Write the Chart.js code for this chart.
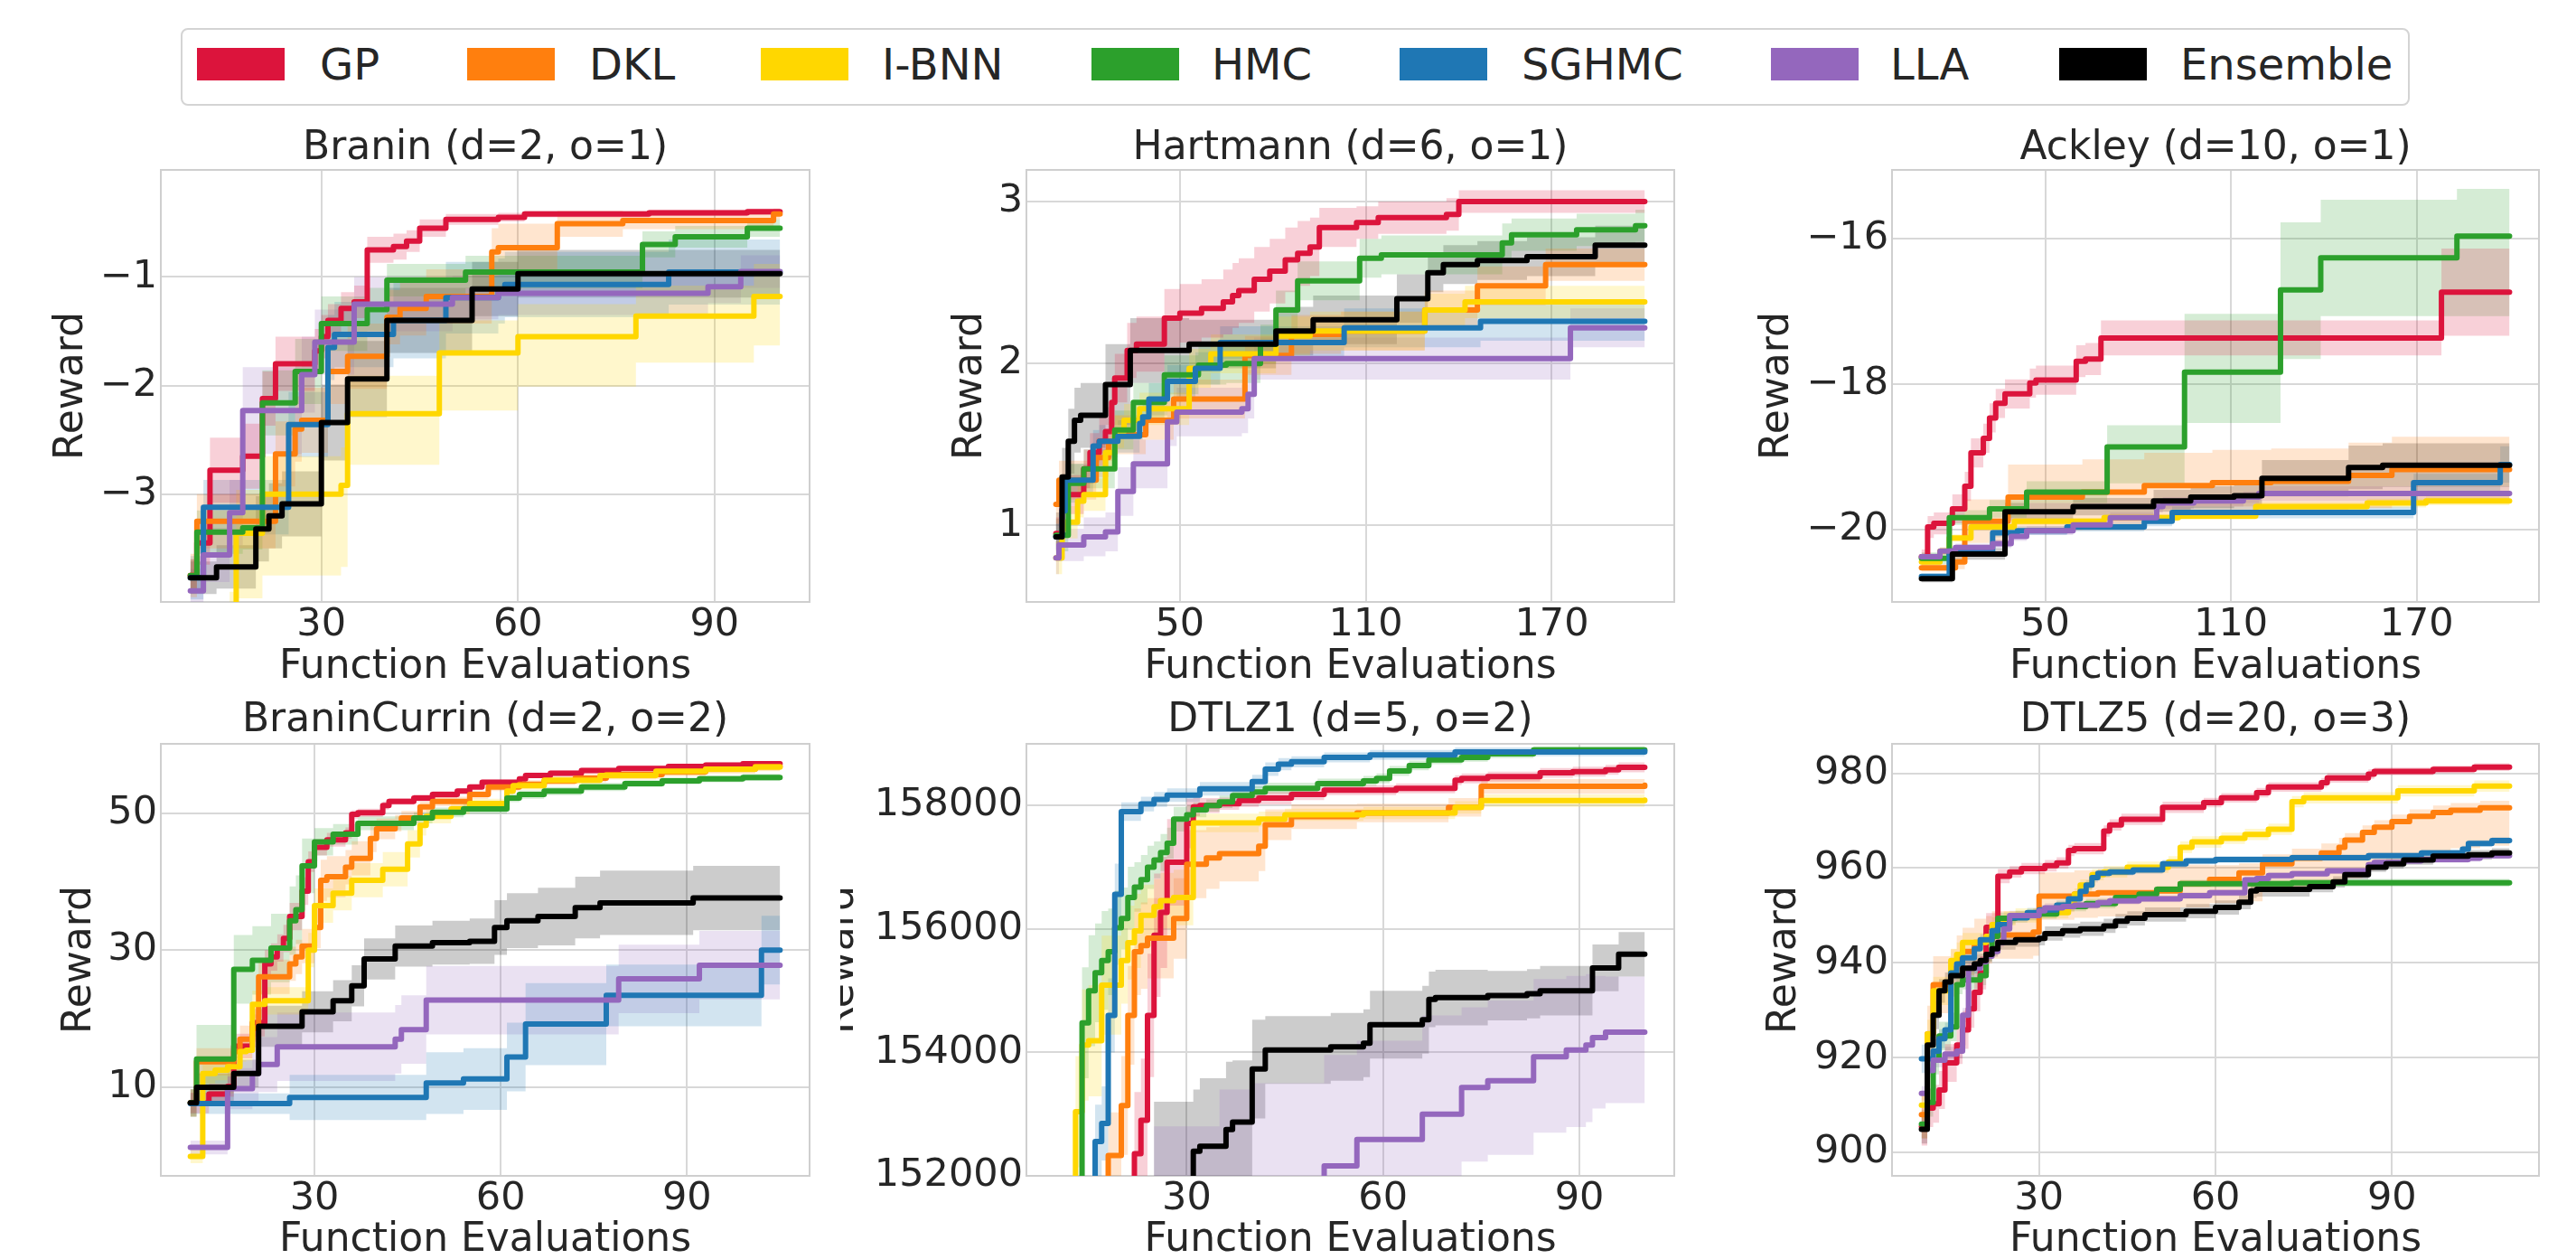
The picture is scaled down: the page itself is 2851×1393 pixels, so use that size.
<!DOCTYPE html>
<html>
<head>
<meta charset="utf-8">
<script src="https://cdn.jsdelivr.net/npm/chart.js@4/dist/chart.umd.min.js"></script>
<style>
html,body{margin:0;padding:0;background:#ffffff;}
body{width:2851px;height:1393px;position:relative;overflow:hidden;font-family:'DejaVu Sans',sans-serif;}
canvas{position:absolute;}
#legend{position:absolute;left:200px;top:31px;width:2463px;height:82px;border:2px solid #d4d4d4;border-radius:8px;}
.sw{position:absolute;top:20px;width:97px;height:36px;}
.lt{position:absolute;top:14px;font-size:48px;line-height:48px;color:#262626;white-space:nowrap;}
</style>
</head>
<body>
<div id="legend"></div>
<canvas id="c1" width="930" height="660" style="left:0px;top:100px;"></canvas>
<canvas id="c2" width="960" height="660" style="left:930px;top:100px;"></canvas>
<canvas id="c3" width="961" height="660" style="left:1890px;top:100px;"></canvas>
<canvas id="c4" width="930" height="633" style="left:0px;top:760px;"></canvas>
<canvas id="c5" width="960" height="633" style="left:930px;top:760px;"></canvas>
<canvas id="c6" width="961" height="633" style="left:1890px;top:760px;"></canvas>
<script>
// ---------- categories ----------
const methodNames = ['GP', 'DKL', 'I-BNN', 'HMC', 'SGHMC', 'LLA', 'Ensemble'];
const panelTitles = ['Branin (d=2, o=1)', 'Hartmann (d=6, o=1)', 'Ackley (d=10, o=1)',
                     'BraninCurrin (d=2, o=2)', 'DTLZ1 (d=5, o=2)', 'DTLZ5 (d=20, o=3)'];

// ---------- tick labels ----------
const braninXTicks = [30, 60, 90];     const braninYTicks = [-3, -2, -1];
const hartXTicks = [50, 110, 170];     const hartYTicks = [1, 2, 3];
const ackXTicks = [50, 110, 170];      const ackYTicks = [-20, -18, -16];
const bcXTicks = [30, 60, 90];         const bcYTicks = [10, 30, 50];
const dtlz1XTicks = [30, 60, 90];      const dtlz1YTicks = [152000, 154000, 156000, 158000];
const dtlz5XTicks = [30, 60, 90];      const dtlz5YTicks = [900, 920, 940, 960, 980];

// ---------- series: [evaluations, reward, band half-width (up), optional band half-width (down)] ----------
// Branin
const braninGP = [[10,-3.75,0.15],[11,-3.45,0.2],[13,-2.78,0.3],[18,-2.65,0.3],[21,-2.12,0.25],[23,-1.80,0.25],[29,-1.68,0.2],[30,-1.55,0.2],[31,-1.40,0.15],[33,-1.29,0.15],[35,-1.23,0.15],[37,-0.75,0.12],[41,-0.72,0.12],[43,-0.67,0.1],[45,-0.55,0.08],[49,-0.47,0.05],[57,-0.45,0.04],[61,-0.42,0.03],[80,-0.41,0.03],[95,-0.40,0.03],[100,-0.40,0.03]];
const braninDKL = [[10,-3.75,0.2],[11,-3.25,0.25],[23,-2.63,0.3],[26,-2.40,0.3],[27,-2.32,0.3],[31,-1.87,0.3],[34,-1.73,0.3],[40,-1.37,0.25],[42,-1.29,0.25],[46,-1.18,0.25],[56,-0.77,0.22],[57,-0.73,0.22],[66,-0.51,0.12],[76,-0.48,0.08],[99,-0.42,0.05],[100,-0.42,0.05]];
const braninIBNN = [[10,-4.6,0.4,0.6],[16,-4.3,0.4,0.6],[17,-3.36,0.4,0.6],[21,-3.0,0.35,0.75],[33,-2.92,0.35,0.75],[34,-2.26,0.35,0.47],[48,-1.70,0.3,0.53],[60,-1.55,0.3,0.46],[78,-1.36,0.28,0.43],[96,-1.18,0.3,0.45],[100,-1.18,0.3,0.45]];
const braninHMC = [[10,-3.75,0.15],[11,-3.35,0.2],[18,-3.31,0.2],[21,-2.16,0.3],[26,-1.87,0.3],[30,-1.43,0.25],[37,-1.30,0.2],[40,-1.03,0.15],[52,-0.955,0.15],[79,-0.70,0.12],[84,-0.63,0.1],[95,-0.55,0.08],[100,-0.55,0.08]];
const braninSGHMC = [[10,-3.77,0.2],[12,-3.12,0.25],[25,-2.36,0.3],[31,-1.65,0.3],[32,-1.53,0.3],[41,-1.40,0.35],[49,-1.19,0.33],[57,-1.13,0.3],[58,-1.07,0.3],[83,-0.955,0.3],[100,-0.955,0.3]];
const braninLLA = [[10,-3.89,0.2],[12,-3.56,0.25],[16,-3.17,0.3],[18,-2.23,0.4],[27,-1.90,0.35],[29,-1.60,0.3],[35,-1.25,0.25],[50,-1.19,0.2],[57,-1.15,0.2],[89,-1.09,0.15],[94,-0.95,0.15],[100,-0.95,0.15]];
const braninEns = [[10,-3.77,0.15],[14,-3.67,0.2],[20,-3.32,0.3],[22,-3.20,0.3],[24,-3.09,0.3],[30,-2.34,0.35],[34,-1.94,0.35],[40,-1.40,0.3],[53,-1.11,0.25],[60,-0.97,0.22],[100,-0.97,0.22]];

// Hartmann
const hartGP = [[10,0.95,0.1],[12,1.10,0.1],[13,1.19,0.12],[19,1.35,0.12],[21,1.45,0.12],[24,1.52,0.15],[26,1.58,0.15],[28,1.76,0.15],[29,1.91,0.15],[33,2.08,0.17],[36,2.12,0.17],[45,2.28,0.18],[50,2.31,0.18],[57,2.34,0.18],[64,2.38,0.2],[67,2.42,0.2],[69,2.45,0.2],[74,2.52,0.2],[79,2.57,0.2],[84,2.64,0.2],[88,2.68,0.2],[92,2.72,0.18],[95,2.84,0.12],[107,2.87,0.1],[114,2.90,0.1],[136,2.92,0.1],[140,3.00,0.07],[200,3.00,0.07]];
const hartDKL = [[10,1.13,0.12],[11,1.28,0.12],[23,1.42,0.12],[27,1.52,0.12],[29,1.56,0.12],[39,1.65,0.12],[48,1.78,0.12],[71,2.05,0.12],[86,2.18,0.12],[102,2.20,0.12],[129,2.33,0.12],[146,2.48,0.12],[168,2.61,0.1],[200,2.61,0.1]];
const hartIBNN = [[10,0.80,0.1],[12,0.98,0.1],[13,1.02,0.1],[17,1.15,0.1],[19,1.19,0.1],[26,1.45,0.1],[29,1.58,0.1],[32,1.65,0.1],[37,1.72,0.1],[53,1.97,0.12],[60,2.06,0.12],[81,2.17,0.12],[92,2.20,0.12],[129,2.33,0.1],[142,2.38,0.1],[200,2.38,0.1]];
const hartHMC = [[10,0.94,0.1],[14,1.26,0.12],[19,1.35,0.12],[29,1.59,0.12],[35,1.76,0.12],[45,1.93,0.12],[56,1.99,0.12],[65,2.00,0.12],[76,2.12,0.12],[81,2.33,0.12],[88,2.51,0.12],[108,2.65,0.12],[115,2.67,0.12],[154,2.745,0.12],[157,2.795,0.1],[178,2.825,0.1],[197,2.85,0.1],[200,2.85,0.1]];
const hartSGHMC = [[10,0.93,0.08],[12,1.09,0.1],[13,1.28,0.1],[22,1.49,0.1],[24,1.52,0.1],[30,1.55,0.1],[37,1.63,0.1],[38,1.67,0.1],[40,1.78,0.1],[46,1.89,0.1],[55,1.97,0.1],[63,2.13,0.1],[103,2.22,0.12],[147,2.26,0.12],[200,2.26,0.12]];
const hartLLA = [[10,0.80,0.1],[11,0.88,0.1],[19,0.93,0.12],[26,0.96,0.12],[30,1.21,0.15],[35,1.38,0.15],[46,1.64,0.15],[49,1.70,0.15],[70,1.72,0.15],[72,1.81,0.15],[74,2.03,0.13],[176,2.22,0.12],[200,2.22,0.12]];
const hartEns = [[10,0.93,0.15],[12,1.30,0.18],[14,1.52,0.2],[16,1.65,0.2],[18,1.68,0.2],[26,1.87,0.25],[34,2.08,0.2],[53,2.12,0.15],[81,2.20,0.15],[93,2.27,0.15],[120,2.40,0.15],[130,2.56,0.12],[135,2.61,0.12],[146,2.635,0.12],[162,2.66,0.12],[184,2.73,0.12],[200,2.73,0.12]];

// Ackley
const ackGP = [[10,-20.38,0.1],[12,-19.97,0.15],[14,-19.92,0.15],[20,-19.72,0.2],[24,-19.41,0.2],[26,-18.95,0.2],[30,-18.75,0.2],[32,-18.47,0.2],[34,-18.27,0.2],[37,-18.14,0.2],[45,-17.99,0.2],[47,-17.95,0.2],[60,-17.69,0.22],[63,-17.66,0.22],[68,-17.37,0.24],[178,-16.74,0.6],[200,-16.74,0.6]];
const ackDKL = [[10,-20.53,0.05],[21,-20.45,0.1],[24,-19.89,0.3],[38,-19.56,0.45],[62,-19.49,0.45],[82,-19.40,0.45],[104,-19.36,0.45],[123,-19.34,0.45],[148,-19.26,0.45],[162,-19.18,0.45],[200,-19.18,0.45]];
const ackIBNN = [[10,-20.45,0.05],[16,-20.30,0.05],[19,-20.12,0.05],[26,-19.97,0.05],[40,-19.89,0.05],[69,-19.84,0.05],[93,-19.82,0.05],[118,-19.69,0.06],[154,-19.64,0.06],[173,-19.61,0.06],[200,-19.61,0.06]];
const ackHMC = [[10,-20.40,0.08],[19,-19.84,0.1],[32,-19.72,0.12],[44,-19.49,0.15],[70,-18.87,0.3,0.5],[95,-17.84,0.8,0.7],[126,-16.71,0.93,0.95],[139,-16.27,0.8,0.8],[183,-15.97,0.65,1.1],[200,-15.97,0.65,1.1]];
const ackSGHMC = [[10,-20.65,0.04],[19,-20.30,0.05],[33,-20.05,0.06],[41,-20.02,0.06],[57,-19.97,0.06],[82,-19.89,0.07],[91,-19.77,0.08],[169,-19.36,0.12],[197,-19.11,0.25],[200,-19.11,0.25]];
const ackLLA = [[10,-20.38,0.05],[16,-20.30,0.05],[21,-20.25,0.05],[33,-20.20,0.06],[39,-20.10,0.06],[44,-20.02,0.06],[59,-19.94,0.07],[71,-19.84,0.07],[86,-19.69,0.08],[88,-19.64,0.08],[98,-19.61,0.08],[114,-19.56,0.08],[119,-19.51,0.1],[200,-19.51,0.1]];
const ackEns = [[10,-20.68,0.05],[20,-20.34,0.08],[37,-19.76,0.12],[59,-19.69,0.12],[85,-19.61,0.15],[97,-19.56,0.15],[111,-19.54,0.15],[120,-19.30,0.25],[148,-19.15,0.3],[159,-19.12,0.3],[200,-19.12,0.3]];

// BraninCurrin
const bcGP = [[10,7.7,1.5],[13,9.0,1.5],[16,10.1,1.5],[17,16.0,1.8],[20,19.4,2],[22,28.0,2],[23,29.0,2],[24,30.3,2],[25,31.7,2],[26,34.9,2],[28,38.6,2],[29,42.9,1.5],[30,45.0,1.2],[32,46.1,1],[35,47.1,0.8],[36,49.8,0.6],[37,50.05,0.6],[41,51.1,0.6],[42,51.7,0.5],[46,52.2,0.5],[49,52.7,0.5],[53,53.2,0.4],[55,53.8,0.4],[57,54.5,0.4],[63,55.0,0.4],[64,55.5,0.4],[68,55.8,0.4],[73,56.2,0.4],[79,56.5,0.4],[87,56.8,0.4],[93,57.0,0.4],[99,57.2,0.4],[105,57.2,0.4]];
const bcDKL = [[10,7.7,2],[11,13.7,2],[17,15.2,2],[18,17.0,2],[20,18.6,2],[21,26.1,2.5],[26,28.0,2.5],[27,29.0,2.5],[28,30.6,2.5],[30,33.3,3],[31,40.2,3],[32,40.7,3],[35,42.1,2.5],[36,43.4,2.5],[39,46.3,2],[40,47.7,1.5],[43,48.5,1.2],[44,49.3,1],[47,50.9,0.8],[49,51.7,0.7],[55,52.7,0.6],[58,53.8,0.6],[63,54.2,0.6],[67,54.7,0.6],[72,55.1,0.6],[77,55.6,0.6],[86,56.0,0.6],[93,56.4,0.6],[101,56.8,0.6],[105,56.8,0.6]];
const bcIBNN = [[10,-0.1,1],[12,12.0,1.5],[14,12.5,1.5],[16,13.0,1.5],[18,15.2,1.5],[19,15.4,1.5],[20,22.1,2],[22,22.6,2],[29,30.0,2.5],[30,36.5,2.5],[33,38.3,2.5],[36,40.2,2.5],[41,41.8,2.5],[45,45.5,2],[47,48.2,1.5],[48,49.5,1],[52,50.6,0.8],[55,51.4,0.7],[61,53.2,0.6],[62,54.0,0.6],[67,54.8,0.6],[76,55.5,0.6],[85,56.1,0.6],[93,56.4,0.6],[101,56.7,0.6],[105,56.7,0.6]];
const bcHMC = [[10,7.7,2],[11,14.1,5],[17,27.2,5],[20,28.5,5],[23,30.3,5],[26,34.3,5],[27,35.9,5],[28,42.3,4],[30,45.8,2],[33,46.9,1.5],[37,48.5,1],[46,49.3,0.8],[49,50.1,0.7],[54,50.6,0.7],[61,52.2,0.6],[63,52.7,0.6],[67,53.2,0.6],[73,53.8,0.6],[80,54.3,0.5],[86,54.7,0.5],[92,55.0,0.5],[99,55.2,0.5],[105,55.2,0.5]];
const bcSGHMC = [[10,7.6,1.5],[26,8.5,3.3],[48,10.6,4.5],[54,11.2,4.5],[61,14.4,5],[64,19.2,6],[77,23.4,4.5],[102,30.0,5],[105,30.0,5]];
const bcLLA = [[10,1.2,1],[16,9.8,3],[20,12.0,4],[21,13.3,4],[24,15.9,5],[43,17.0,5],[44,18.4,5],[48,22.7,5],[79,25.8,5],[92,27.8,5],[105,27.8,5]];
const bcEns = [[10,7.7,2],[11,10.0,2],[17,12.0,2],[21,18.9,3],[28,21.0,3],[33,22.6,3],[36,24.8,3],[38,28.7,3],[43,30.6,3],[49,31.1,3.2],[55,31.3,3.3],[59,33.3,4],[61,34.3,4],[66,34.9,4.2],[72,36.2,4.5],[76,36.9,4.7],[91,37.6,4.7],[105,37.6,4.7]];

// DTLZ1
const dtlz1GP = [[10,148000,300],[21,150500,1000],[22,152360,1000],[23,152900,1000],[24,154600,1000],[25,155900,1000],[26,156270,900],[27,157080,700],[30,157710,400],[31,157980,150],[32,158000,120],[35,158030,100],[38,158080,100],[41,158120,100],[46,158180,90],[51,158250,80],[62,158280,80],[71,158410,80],[72,158440,80],[76,158470,80],[84,158530,80],[89,158550,80],[94,158580,80],[96,158620,80],[100,158620,80]];
const dtlz1DKL = [[10,148000,300],[17,150500,600],[18,152330,700],[20,153140,800],[21,154600,800],[22,155630,700],[23,155730,700],[24,155850,650],[28,156170,650],[30,157050,550],[33,157150,500],[35,157220,450],[41,157340,400],[42,157690,250],[46,157820,200],[56,157880,150],[70,157970,150],[75,158310,120],[100,158330,120]];
const dtlz1IBNN = [[10,148000,300],[12,150500,800],[13,153040,900],[14,154120,900],[15,154190,900],[17,155090,800],[20,155490,700],[21,155780,600],[22,155970,600],[23,156220,500],[25,156360,450],[26,156460,450],[28,156510,450],[31,157720,150],[41,157780,120],[45,157850,100],[57,157880,100],[71,157970,100],[75,158080,100],[100,158090,100]];
const dtlz1HMC = [[10,148000,300],[13,150500,900],[14,154480,900],[15,155000,900],[16,155290,800],[17,155490,800],[18,155630,700],[19,156020,600],[20,156170,500],[21,156510,500],[22,156680,400],[23,156800,400],[24,157000,350],[25,157120,300],[26,157240,300],[27,157390,250],[28,157780,200],[30,157850,150],[31,157930,120],[33,158000,100],[35,158060,100],[37,158160,100],[40,158220,90],[42,158280,90],[50,158355,80],[57,158400,80],[59,158440,80],[61,158560,80],[64,158650,80],[67,158740,70],[72,158780,70],[76,158840,70],[83,158900,60],[100,158900,60]];
const dtlz1SGHMC = [[10,148000,300],[15,150500,500],[16,152555,600],[17,152850,600],[18,154600,600],[19,156560,500],[20,157900,150],[23,158025,120],[25,158100,120],[27,158170,110],[32,158270,110],[40,158390,110],[42,158590,110],[44,158670,100],[46,158710,90],[51,158780,80],[58,158820,80],[71,158870,70],[100,158880,70]];
const dtlz1LLA = [[10,147000,1500],[25,150000,2800],[35,150500,2900],[40,151200,2300],[50,151500,2000],[51,152160,1800],[56,152590,1600],[66,153000,1600],[72,153430,1300,1200],[76,153540,1300,1200],[83,153930,1260,1230],[88,154040,1200,1250],[91,154120,1150,1250],[92,154240,1000,1150],[94,154330,900,1150],[100,154330,900,1150]];
const dtlz1Ens = [[10,148000,500],[25,151000,2200],[29,151400,1800],[30,151900,1300],[31,152400,1000],[32,152480,1100],[36,152750,1100],[37,152870,1000],[40,153730,800],[42,154040,550],[52,154090,550],[57,154150,550],[58,154450,550],[66,154530,550],[67,154860,450],[68,154890,450],[76,154920,400],[82,154950,400],[84,155000,400],[92,155370,380],[96,155590,360],[100,155590,360]];

// DTLZ5
const dtlz5GP = [[10,905.5,4],[11,909.4,4],[12,910.3,4],[13,913.2,4],[14,918.9,4],[16,922.7,4],[17,925.9,4],[18,930.3,4],[19,933.8,4],[20,937.9,3.5],[21,947.5,3],[23,958.3,1.5],[25,959.2,1.2],[27,959.9,1.2],[31,960.5,1.2],[33,961.1,1.2],[35,963.7,1.2],[36,964.1,1.2],[41,967.8,1.2],[42,969.1,1.2],[44,970.3,1.2],[51,972.8,1.2],[58,973.8,1.0],[61,974.8,1.0],[67,975.9,1.0],[69,977.1,1.0],[78,978.0,1.0],[79,979.0,1.0],[86,979.8,1.0],[87,980.4,0.8],[97,980.8,0.8],[104,981.3,0.8],[110,981.3,0.8]];
const dtlz5DKL = [[10,908,5],[11,925,6],[12,935.4,6],[15,937.9,5],[16,940.8,5],[17,942.4,5],[19,944.3,5],[21,944.9,5],[22,945.9,5],[29,946.5,5],[30,954.1,5],[36,954.5,5],[40,954.8,5],[50,955.2,5],[54,956.7,4,5],[59,957.6,3,5],[64,959.0,2,6],[68,960.9,2,6],[73,962.1,2,6],[78,963.2,2,6],[81,964.4,2,7],[82,965.9,1.5,8],[85,967.5,1.5,8],[87,968.6,1.5,8],[90,969.8,1.5,8],[93,970.9,1.5,8],[97,971.7,1.5,8],[100,972.2,1.5,8],[105,972.7,1.5,8],[110,972.7,1.5,8]];
const dtlz5IBNN = [[10,910,3],[11,925,3],[12,934.1,3],[15,940.5,2.5],[16,941.8,2.5],[17,944.3,2],[21,945.6,2],[22,948.1,1.5],[24,949.4,1.5],[26,950.0,1.5],[30,950.6,1.2],[35,951.9,1.2],[36,954.5,1.2],[37,956.4,1.2],[39,958.6,1.2],[41,959.2,1.2],[45,960.2,1.2],[52,961.3,1.2],[54,964.4,1.2],[56,965.5,1.2],[61,966.3,1.2],[65,967.1,1.2],[69,968.2,1.2],[73,974.0,1.2],[75,974.8,1.2],[91,976.3,1.2],[104,977.3,1.2],[110,977.3,1.2]];
const dtlz5HMC = [[10,906,3],[11,910.6,3],[12,919.5,3],[13,924.6,3],[15,926.5,3],[16,935.4,2],[17,936.4,2],[20,937.3,2],[21,941.8,1.5],[22,945.6,1.5],[23,949.4,1.2],[26,950.0,1],[30,950.3,1],[33,951.9,1],[38,952.5,1],[43,953.8,0.8],[47,954.5,0.8],[50,955.5,0.8],[54,956.7,0.8],[73,956.9,0.8],[110,956.9,0.8]];
const dtlz5SGHMC = [[10,919.8,3],[12,921.4,2.5],[13,924.0,2],[14,925.9,1.5],[15,937.9,1.5],[16,939.8,1.2],[17,941.1,1.2],[19,943.0,1.2],[20,944.9,1.2],[22,946.8,1],[23,948.1,1],[25,949.5,1],[28,950.6,1],[30,951.2,1],[33,952.2,1],[35,953.5,1],[37,955.1,1],[38,956.4,1],[39,958.0,1],[40,958.9,0.8],[42,959.2,0.8],[46,959.6,0.8],[51,960.9,0.8],[55,961.5,0.7],[60,961.8,0.7],[73,962.2,0.7],[86,962.6,0.7],[95,963.2,0.7],[102,964.0,0.7],[103,965.2,0.7],[107,965.8,0.7],[110,965.8,0.7]];
const dtlz5LLA = [[10,912.5,1.5],[11,917.3,1.5],[12,919.5,1.5],[14,920.8,1.5],[16,921.4,1.5],[17,929.0,1.5],[18,938.9,1.2],[20,940.2,1.2],[21,941.4,1.2],[22,942.4,1.2],[23,944.3,1],[24,947.2,1],[25,950.0,1],[30,951.0,1],[31,951.6,1],[34,951.9,1],[36,952.2,0.8],[40,952.7,0.8],[42,953.1,0.8],[47,953.5,0.7],[54,954.2,0.7],[59,954.8,0.7],[65,957.5,0.7],[67,957.8,0.7],[69,958.4,0.7],[73,958.8,0.7],[79,959.4,0.7],[86,960.7,0.7],[87,961.2,0.7],[92,961.5,0.7],[95,961.8,0.7],[103,962.1,0.7],[105,962.6,0.7],[110,962.6,0.7]];
const dtlz5Ens = [[10,904.9,3],[11,922.7,3],[12,929.0,3],[13,934.1,2.5],[14,936.0,2],[15,937.3,2],[17,938.9,2],[19,939.8,2],[20,940.5,1.5],[21,941.8,1.5],[22,943.0,1.5],[23,944.3,1.5],[26,944.9,1.5],[30,945.2,1.5],[31,946.2,1.5],[34,946.8,1.5],[37,947.2,1.5],[41,947.8,1.5],[43,948.8,1.5],[45,949.4,1.5],[48,950.2,1.5],[55,950.9,1.5],[60,951.7,1.5],[64,952.8,1.5],[66,955.2,1.5],[67,955.5,1.5],[76,956.1,1.2],[80,957.1,1.2],[82,958.6,1.0],[86,960.2,1.0],[89,960.9,1.0],[92,961.7,1.0],[97,962.5,1.0],[103,962.8,1.0],[107,963.2,1.0],[110,963.2,1.0]];

// ---------- styles ----------
const FONT = "'DejaVu Sans', sans-serif";
const TEXT_COLOR = '#262626';
const lineColors = ['#dc143c', '#ff7f0e', '#ffd700', '#2ca02c', '#1f77b4', '#9467bd', '#000000'];
const bandColors = ['rgba(220,20,60,0.2)', 'rgba(255,127,14,0.2)', 'rgba(255,215,0,0.2)', 'rgba(44,160,44,0.2)',
                    'rgba(31,119,180,0.2)', 'rgba(148,103,189,0.2)', 'rgba(0,0,0,0.2)'];

// ---------- legend (HTML) ----------
const legendSwatchX = [16, 315, 640, 1006, 1347, 1758, 2077];
const legendTextX = [152, 450, 774, 1139, 1482, 1890, 2211];
(function buildLegend() {
  const lg = document.getElementById('legend');
  methodNames.forEach((name, i) => {
    const sw = document.createElement('div');
    sw.className = 'sw';
    sw.style.left = legendSwatchX[i] + 'px';
    sw.style.background = lineColors[i];
    lg.appendChild(sw);
    const t = document.createElement('div');
    t.className = 'lt';
    t.style.left = legendTextX[i] + 'px';
    t.textContent = name;
    lg.appendChild(t);
  });
})();

// ---------- charts ----------
Chart.defaults.font.family = FONT;
Chart.defaults.color = TEXT_COLOR;

function fmtTick(v) { return v < 0 ? '\u2212' + Math.abs(v) : String(v); }

const framePlugin = {
  id: 'frame',
  beforeDatasetsDraw(chart) {
    const a = chart.chartArea, ctx = chart.ctx;
    ctx.save();
    ctx.strokeStyle = '#cfcfcf';
    ctx.lineWidth = 2;
    ctx.strokeRect(a.left, a.top, a.right - a.left, a.bottom - a.top);
    ctx.restore();
  }
};

function buildDatasets(seriesList) {
  const ds = [];
  seriesList.forEach((pts, i) => {
    ds.push({ data: pts.map(p => ({ x: p[0], y: p[1] - (p.length > 3 ? p[3] : p[2]) })),
      borderWidth: 0, pointRadius: 0, fill: false, stepped: true, order: 100, clip: 0 });
    ds.push({ data: pts.map(p => ({ x: p[0], y: p[1] + p[2] })),
      borderWidth: 0, pointRadius: 0, fill: '-1', backgroundColor: bandColors[i], stepped: true, order: 100, clip: 0 });
  });
  seriesList.forEach((pts, i) => {
    ds.push({ label: methodNames[i], data: pts.map(p => ({ x: p[0], y: p[1] })),
      borderColor: lineColors[i], backgroundColor: lineColors[i], borderWidth: 6, pointRadius: 0,
      fill: false, stepped: true, order: 6 - i, borderCapStyle: 'round', borderJoinStyle: 'round', clip: 0 });
  });
  return ds;
}

const panels = [
  { id: 'c1', title: panelTitles[0], series: [braninGP, braninDKL, braninIBNN, braninHMC, braninSGHMC, braninLLA, braninEns],
    xTicks: braninXTicks, yTicks: braninYTicks, xMin: 5.5, xMax: 104.5, yMin: -3.993, yMax: -0.014,
    yW: 178, padR: 34, xH: 94, tTop: 43, tBot: 1, xtPad: -1, ytPad: 57.6 },
  { id: 'c2', title: panelTitles[1], series: [hartGP, hartDKL, hartIBNN, hartHMC, hartSGHMC, hartLLA, hartEns],
    xTicks: hartXTicks, yTicks: hartYTicks, xMin: 0.5, xMax: 209.5, yMin: 0.528, yMax: 3.195,
    yW: 206, padR: 37, xH: 94, tTop: 43, tBot: 1, xtPad: -1, ytPad: 123 },
  { id: 'c3', title: panelTitles[2], series: [ackGP, ackDKL, ackIBNN, ackHMC, ackSGHMC, ackLLA, ackEns],
    xTicks: ackXTicks, yTicks: ackYTicks, xMin: 0.5, xMax: 209.5, yMin: -21.0, yMax: -15.06,
    yW: 204, padR: 41, xH: 94, tTop: 43, tBot: 1, xtPad: -1, ytPad: 56 },
  { id: 'c4', title: panelTitles[3], series: [bcGP, bcDKL, bcIBNN, bcHMC, bcSGHMC, bcLLA, bcEns],
    xTicks: bcXTicks, yTicks: bcYTicks, xMin: 5.25, xMax: 109.75, yMin: -2.94, yMax: 60.1,
    yW: 178, padR: 34, xH: 92, tTop: 16, tBot: 3, xtPad: -2, ytPad: 66.6 },
  { id: 'c5', title: panelTitles[4], series: [dtlz1GP, dtlz1DKL, dtlz1IBNN, dtlz1HMC, dtlz1SGHMC, dtlz1LLA, dtlz1Ens],
    xTicks: dtlz1XTicks, yTicks: dtlz1YTicks, xMin: 5.5, xMax: 104.5, yMin: 152000, yMax: 159000,
    yW: 206, padR: 37, xH: 92, tTop: 16, tBot: 3, xtPad: -2, ytPad: -19 },
  { id: 'c6', title: panelTitles[5], series: [dtlz5GP, dtlz5DKL, dtlz5IBNN, dtlz5HMC, dtlz5SGHMC, dtlz5LLA, dtlz5Ens],
    xTicks: dtlz5XTicks, yTicks: dtlz5YTicks, xMin: 5, xMax: 115, yMin: 895.1, yMax: 986.2,
    yW: 204, padR: 41, xH: 92, tTop: 16, tBot: 3, xtPad: -2, ytPad: 64 }
];

function makePanel(p) {
  const gridOpts = { color: '#d8d8d8', lineWidth: 2, drawTicks: false };
  new Chart(document.getElementById(p.id), {
    type: 'line',
    data: { datasets: buildDatasets(p.series) },
    options: {
      responsive: false, animation: false, devicePixelRatio: 1, events: [],
      layout: { padding: { left: 0, right: p.padR, top: 0, bottom: 0 } },
      plugins: {
        legend: { display: false },
        tooltip: { enabled: false },
        title: { display: true, text: p.title, fullSize: false, color: TEXT_COLOR,
          font: { family: FONT, size: 44, weight: 'normal', lineHeight: 1 },
          padding: { top: p.tTop, bottom: p.tBot } }
      },
      scales: {
        x: {
          type: 'linear', min: p.xMin, max: p.xMax,
          afterBuildTicks: s => { s.ticks = p.xTicks.map(v => ({ value: v })); },
          afterFit: s => { s.height = p.xH; },
          ticks: { padding: 0, autoSkip: false, maxRotation: 0, minRotation: 0, color: TEXT_COLOR,
            font: { size: 43 }, callback: v => fmtTick(v) },
          grid: gridOpts, border: { display: false },
          title: { display: true, text: 'Function Evaluations', color: TEXT_COLOR,
            font: { size: 44, lineHeight: 1 }, padding: { top: 0, bottom: p.xtPad } }
        },
        y: {
          type: 'linear', min: p.yMin, max: p.yMax,
          afterBuildTicks: s => { s.ticks = p.yTicks.map(v => ({ value: v })); },
          afterFit: s => { s.width = p.yW; },
          ticks: { padding: 4, autoSkip: false, color: TEXT_COLOR, font: { size: 43 }, callback: v => fmtTick(v) },
          grid: gridOpts, border: { display: false },
          title: { display: true, text: 'Reward', color: TEXT_COLOR,
            font: { size: 44, lineHeight: 1 }, padding: { top: p.ytPad, bottom: 0 } }
        }
      }
    },
    plugins: [framePlugin]
  });
}

panels.forEach(makePanel);
</script>
</body>
</html>
